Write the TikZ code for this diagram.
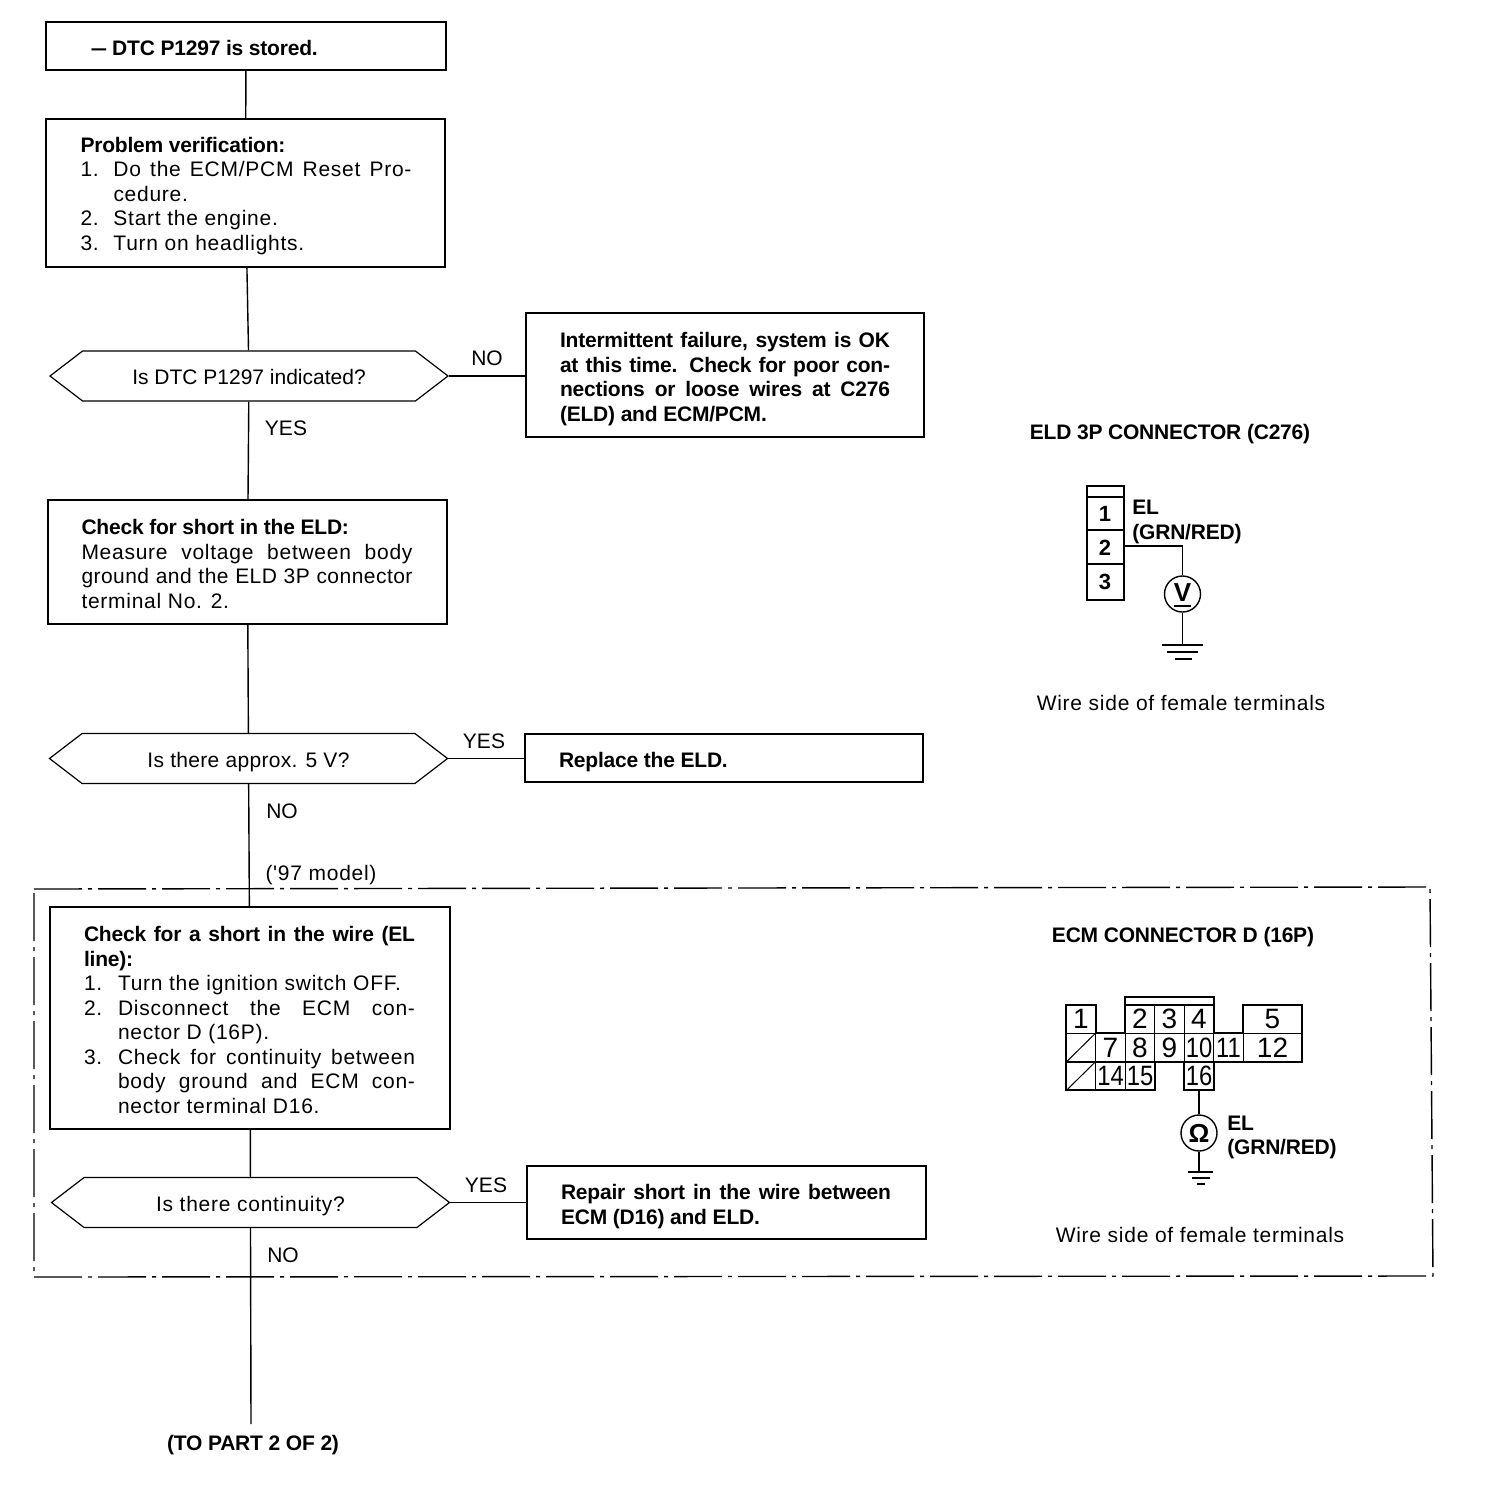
\documentclass[tikz,border=0pt]{standalone}
\usepackage{fontspec}
\setmainfont{Liberation Sans}
\newfontfamily\spc[LetterSpace=3.5,BoldFeatures={LetterSpace=-1}]{Liberation Sans}
\usetikzlibrary{shapes.symbols}
\newlength\indw
\setlength\indw{16.5pt}
\newcommand{\jl}[2]{\makebox[#1][s]{#2}}
\newcommand{\ind}{\hspace*{\indw}}
\newcommand{\numl}[3]{\makebox[#3][l]{\makebox[\indw][l]{#1}\makebox[\dimexpr#3-\indw][s]{#2}}}
\newcommand{\low}[2]{\raisebox{-#1}[\height][\depth]{#2}}
\tikzset{
  txt/.style={font=\spc\fontsize{10.5}{12.25}\selectfont,inner sep=0pt},
  lbl/.style={txt,anchor=center},
  plainlbl/.style={inner sep=0pt,font=\fontsize{10.5}{12.25}\selectfont},
  boldlbl/.style={txt,font=\spc\fontsize{10.5}{12.25}\selectfont\bfseries},
  flowbox/.style={draw,line width=.7pt,rectangle,inner sep=0pt,txt,align=left},
  hexa/.style={draw,line width=.6pt,shape=signal,signal to=east and west,signal pointer angle=75,inner sep=0pt,txt,minimum width=199pt,minimum height=25pt},
  flow/.style={line width=.7pt},
  branch/.style={line width=.55pt},
  cell/.style={draw,line width=.5pt,rectangle,inner sep=0pt,font=\fontsize{14}{14}\selectfont,minimum height=14.5pt,minimum width=14.75pt},
  pin/.style={inner sep=0pt,minimum width=18pt,minimum height=17pt,font=\fontsize{11}{11}\selectfont\bfseries},
  outline/.style={line width=1.1pt,line join=miter},
  frame/.style={line width=.7pt,dash pattern=on 24pt off 3pt on 2pt off 3pt},
  meter/.style={draw,circle,line width=.7pt,minimum size=18pt,inner sep=0pt,font=\fontsize{13}{13}\selectfont\bfseries},
  gnd/.style={line width=.8pt}
}
\newcommand{\nr}[1]{\scalebox{.85}[1]{#1}}
\begin{document}
\begin{tikzpicture}[x=.5pt,y=-.5pt]
\useasboundingbox (0,0) rectangle (1504,1512);
% dash-dot frame
\draw[frame] (34,889) -- (1430,887) -- (1433,1276) -- (34,1277) -- cycle;
% boxes
\node[flowbox,minimum width=200pt,minimum height=24pt] (b1) at (246,46) {\low{1pt}{\parbox{166.5pt}{\bfseries\hspace*{6pt}\scalebox{.7}[1]{—}\hspace*{3pt}DTC P1297 is stored.}}};
\node[flowbox,minimum width=199.5pt,minimum height=74pt] (b2) at (245.5,193) {\hspace*{1pt}\low{1.5pt}{%
 \parbox{166pt}{\raggedright\bfseries Problem verification:\\ \mdseries
 \numl{1.}{Do the ECM/PCM Reset Pro-}{165.5pt}\\
 \ind cedure.\\
 \makebox[\indw][l]{2.}Start the engine.\\
 \makebox[\indw][l]{3.}Turn on headlights.}}};
\node[hexa] (d1) at (249,376) {\low{.7pt}{\normalfont\fontsize{10.5}{12.25}\selectfont Is DTC P1297 indicated?}};
\node[flowbox,minimum width=199pt,minimum height=62pt] (b3) at (725,375) {\hspace*{1pt}\low{2pt}{%
 \parbox{166pt}{\raggedright\bfseries
 \jl{165pt}{Intermittent failure, system is OK}\\
 \jl{165pt}{at this time. Check for poor con-}\\
 \jl{165pt}{nections or loose wires at C276}\\
 (ELD) and ECM/PCM.}}};
\node[flowbox,minimum width=199.5pt,minimum height=62pt] (b4) at (247.5,562) {\low{1pt}{%
 \parbox{166pt}{\raggedright\textbf{Check for short in the ELD:}\\
 \jl{165.5pt}{Measure voltage between body}\\
 \jl{165.5pt}{\addfontfeature{LetterSpace=2.2}ground and the ELD 3P connector}\\
 terminal No. 2.}}};
\node[hexa] (d2) at (248.5,758.5) {\low{1.7pt}{\addfontfeature{LetterSpace=1.5}Is there approx. 5 V?}};
\node[flowbox,minimum width=199pt,minimum height=24pt] (b5) at (724,758) {\hspace*{1pt}\low{1.8pt}{\parbox{166pt}{\bfseries Replace the ELD.}}};
\node[flowbox,fill=white,minimum width=200pt,minimum height=111pt] (b6) at (250,1018) {\low{1pt}{%
 \parbox{166pt}{\setlength\indw{17pt}\raggedright\bfseries
 \jl{165.5pt}{Check for a short in the wire (EL}\\
 line):\\ \mdseries
 \makebox[\indw][l]{1.}Turn the ignition switch OFF.\\
 \numl{2.}{Disconnect the ECM con-}{165.5pt}\\
 \ind nector D (16P).\\
 \numl{3.}{Check for continuity between}{165.5pt}\\
 \ind\makebox[148.5pt][s]{body ground and ECM con-}\\
 \ind nector terminal D16.}}};
\node[hexa] (d3) at (250.5,1202.5) {\low{1.8pt}{Is there continuity?}};
\node[flowbox,minimum width=199.5pt,minimum height=36.5pt] (b7) at (726.5,1202.5) {\hspace*{.5pt}\low{2pt}{%
 \parbox{166pt}{\raggedright\bfseries
 \jl{165pt}{Repair short in the wire between}\\
 ECM (D16) and ELD.}}};
\coordinate (endp) at (251,1424);
% connectors
\draw[flow] (b1) -- (b2);
\draw[flow] (b2) -- (d1);
\draw[flow] (d1) -- (b4);
\draw[flow] (b4) -- (d2);
\draw[flow] (d2) -- (b6);
\draw[flow] (b6) -- (d3);
\draw[flow] (d3.south) -- (endp);
\draw[branch] (d1.east) -- (b3.west |- d1.east);
\draw[branch] (d2.east) -- (b5.west |- d2.east);
\draw[branch] (d3.east) -- (b7.west |- d3.east);
% flow labels
\node[plainlbl] (l1) at (487,358.5) {NO};
\node[plainlbl] (l2) at (286,428.5) {YES};
\node[plainlbl] (l3) at (484,741) {YES};
\node[plainlbl] (l4) at (282,811.5) {NO};
\node[lbl] (l5) at (321,875) {('97 model)};
\node[plainlbl] (l6) at (486,1185) {YES};
\node[plainlbl] (l7) at (283,1255.5) {NO};
\node[boldlbl] (l8) at (253,1445) {(TO PART 2 OF 2)};
% ELD connector
\node[boldlbl] (t1) at (1170,434.5) {ELD 3P CONNECTOR (C276)};
\draw[line width=1pt] (1087,486) rectangle (1124,600);
\draw[line width=.6pt] (1087,497) -- (1124,497);
\node[pin] (c1) at (1105,514) {1};
\node[pin] (c2) at (1105,548) {2};
\node[pin] (c3) at (1105,582) {3};
\draw[line width=.6pt] (1087,530) -- (1124,530) (1087,564) -- (1124,564);
\node[meter] (mv) at (1182.5,594) {\raisebox{1pt}{V}};
\draw[line width=.7pt] (1174,606) -- (1191,606);
\coordinate (w1) at (1124,546);
\coordinate (g1) at (1182.5,645);
\draw[gnd] (w1) -| (mv.north);
\draw[gnd] (mv.south) -- (g1);
\draw[gnd] (1162,645) -- (1203,645) (1167,652) -- (1198,652) (1175,659) -- (1192,659);
\node[boldlbl,anchor=west] (e1) at (1132,507.5) {EL};
\node[boldlbl,anchor=west] (e2) at (1132,534) {(GRN/RED)};
\node[lbl] (w1t) at (1181,702.5) {Wire side of female terminals};
% ECM connector
\node[boldlbl] (t2) at (1183,937.5) {ECM CONNECTOR D (16P)};
\draw[outline] (1125,1005) -- (1125,997) -- (1214,997) -- (1214,1005);
\node[cell] (n1) at (1081,1019) {1};
\node[cell] (n2) at (1140,1019) {2};
\node[cell] (n3) at (1169.5,1019) {3};
\node[cell] (n4) at (1199,1019) {4};
\node[cell,minimum width=29.5pt] (n5) at (1272.5,1019) {5};
\node[cell] (n6) at (1081,1047.5) {};
\node[cell] (n7) at (1110.5,1047.5) {7};
\node[cell] (n8) at (1140,1047.5) {8};
\node[cell] (n9) at (1169.5,1047.5) {9};
\node[cell] (n10) at (1199,1047.5) {\nr{10}};
\node[cell] (n11) at (1228.5,1047.5) {\nr{11}};
\node[cell,minimum width=29.5pt] (n12) at (1272.5,1047.5) {12};
\node[cell] (n13) at (1081,1076) {};
\node[cell] (n14) at (1110.5,1076) {\nr{14}};
\node[cell] (n15) at (1140,1076) {\nr{15}};
\node[cell] (n16) at (1199,1076) {\nr{16}};
\draw[line width=.5pt] (n6.south west) -- (n6.north east) (n13.south west) -- (n13.north east);
\draw[outline] (1066,1005) -- (1096,1005) -- (1096,1033) -- (1125,1033) -- (1125,1005) -- (1214,1005) -- (1214,1033) -- (1243,1033) -- (1243,1005) -- (1302,1005) -- (1302,1062) -- (1214,1062) -- (1214,1090) -- (1184,1090) -- (1184,1062) -- (1155,1062) -- (1155,1090) -- (1066,1090) -- cycle;
\node[meter] (mo) at (1199,1133) {Ω};
\coordinate (g2) at (1199,1172);
\draw[gnd] (n16.south) -- (mo.north);
\draw[gnd] (mo.south) -- (g2);
\draw[gnd] (1188,1172) -- (1213,1172) (1192,1178) -- (1210,1178) (1197,1184) -- (1205,1184);
\node[boldlbl,anchor=west] (e3) at (1227,1123.5) {EL};
\node[boldlbl,anchor=west] (e4) at (1227,1149.5) {(GRN/RED)};
\node[lbl] (w2t) at (1200,1234.5) {Wire side of female terminals};
\end{tikzpicture}
\end{document}
